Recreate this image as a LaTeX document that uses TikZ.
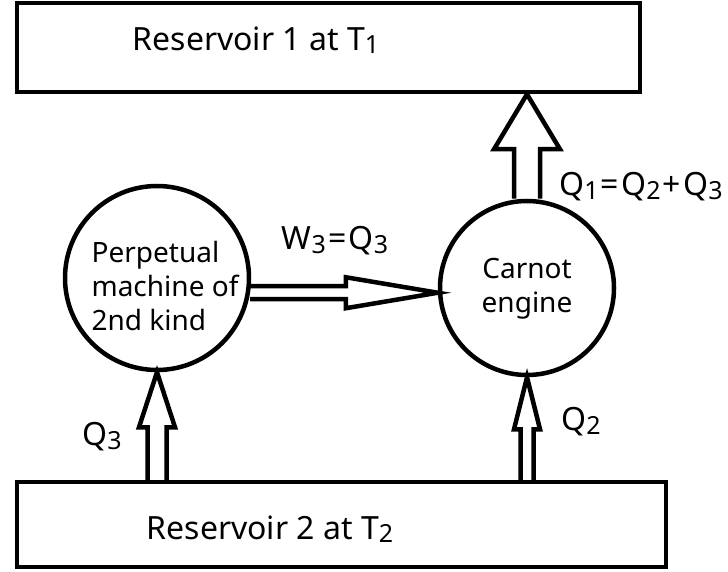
\documentclass[tikz,border=0pt]{standalone}
\usepackage{fontspec}
\usepackage{graphicx}
\setmainfont{Noto Sans}
\usetikzlibrary{calc}
\newcommand\sbs[1]{\raisebox{-0.1em}{\scalebox{0.78}{#1}}}
\newcommand\opr[1]{\kern0.07em#1\kern0.07em}
% vertical block arrow: from #1 (base) up to #2 (tip)
\newcommand\uparr[5]{%
  \draw[blockarrow] let \p1=(#1), \p2=(#2) in
    ({\x1-#3},\y1) -- ({\x1-#3},{\y2-#5}) -- ({\x1-#4},{\y2-#5}) -- (\x1,\y2)
    -- ({\x1+#4},{\y2-#5}) -- ({\x1+#3},{\y2-#5}) -- ({\x1+#3},\y1);}
% horizontal block arrow: from #1 (base) right to #2 (tip)
\newcommand\rightarr[5]{%
  \draw[blockarrow] let \p1=(#1), \p2=(#2) in
    (\x1,{\y1+#3}) -- ({\x2-#5},{\y1+#3}) -- ({\x2-#5},{\y1+#4}) -- (\x2,\y1)
    -- ({\x2-#5},{\y1-#4}) -- ({\x2-#5},{\y1-#3}) -- (\x1,{\y1-#3});}
\begin{document}
\begin{tikzpicture}[x=1pt,y=-1pt,line width=4.5pt,
  reservoir/.style={draw,rectangle,inner sep=0pt},
  machine/.style={draw,circle,inner sep=0pt},
  blockarrow/.style={draw,line join=miter},
  lbl/.style={font=\fontsize{32}{36}\selectfont,inner sep=0pt},
  inlbl/.style={font=\fontsize{28}{34}\selectfont,inner sep=0pt},
  biglbl/.style={font=\fontsize{32}{36}\selectfont,inner sep=0pt}]
\useasboundingbox (0,0) rectangle (728,572);
\fill[white] (0,0) rectangle (728,572);

\node[reservoir,minimum width=623pt,minimum height=89pt] (r1) at (328.5,47.5) {};
\node[reservoir,minimum width=649pt,minimum height=85pt] (r2) at (341.5,524.5) {};
\node[machine,minimum size=184pt] (pm) at (157,278) {};
\node[machine,minimum size=174pt] (ce) at (527,288) {};

\node[biglbl] (t1) at (256,40) {Reservoir 1 at T\sbs{1}};
\node[biglbl] (t2) at (270,529) {Reservoir 2 at T\sbs{2}};
\node[inlbl,align=left] (pmt) at (165,286) {Perpetual\\machine of\\2nd kind};
\node[inlbl,align=center] (cet) at (527,289) {Carnot\\engine};
\node[lbl] (q1) at (641,187) {Q\sbs{1}\opr{=}Q\sbs{2}\opr{+}Q\sbs{3}};
\node[lbl] (w3) at (335,241) {W\sbs{3}\opr{=}Q\sbs{3}};
\node[lbl] (q3) at (102,437) {Q\sbs{3}};
\node[lbl] (q2) at (581,422) {Q\sbs{2}};

\coordinate (topbase) at (ce.north);
\coordinate (toptip) at (ce.north |- r1.south);
\uparr{topbase}{toptip}{13pt}{33pt}{55pt}
\coordinate (q3base) at (pm.south |- r2.north);
\uparr{q3base}{pm.south}{9.5pt}{18pt}{55pt}
\coordinate (q2base) at (ce.south |- r2.north);
\uparr{q2base}{ce.south}{6.5pt}{13pt}{52pt}
\coordinate (wtip) at (ce.west |- pm.-9);
\rightarr{pm.-9}{wtip}{6.5pt}{15.5pt}{92pt}
\end{tikzpicture}
\end{document}
